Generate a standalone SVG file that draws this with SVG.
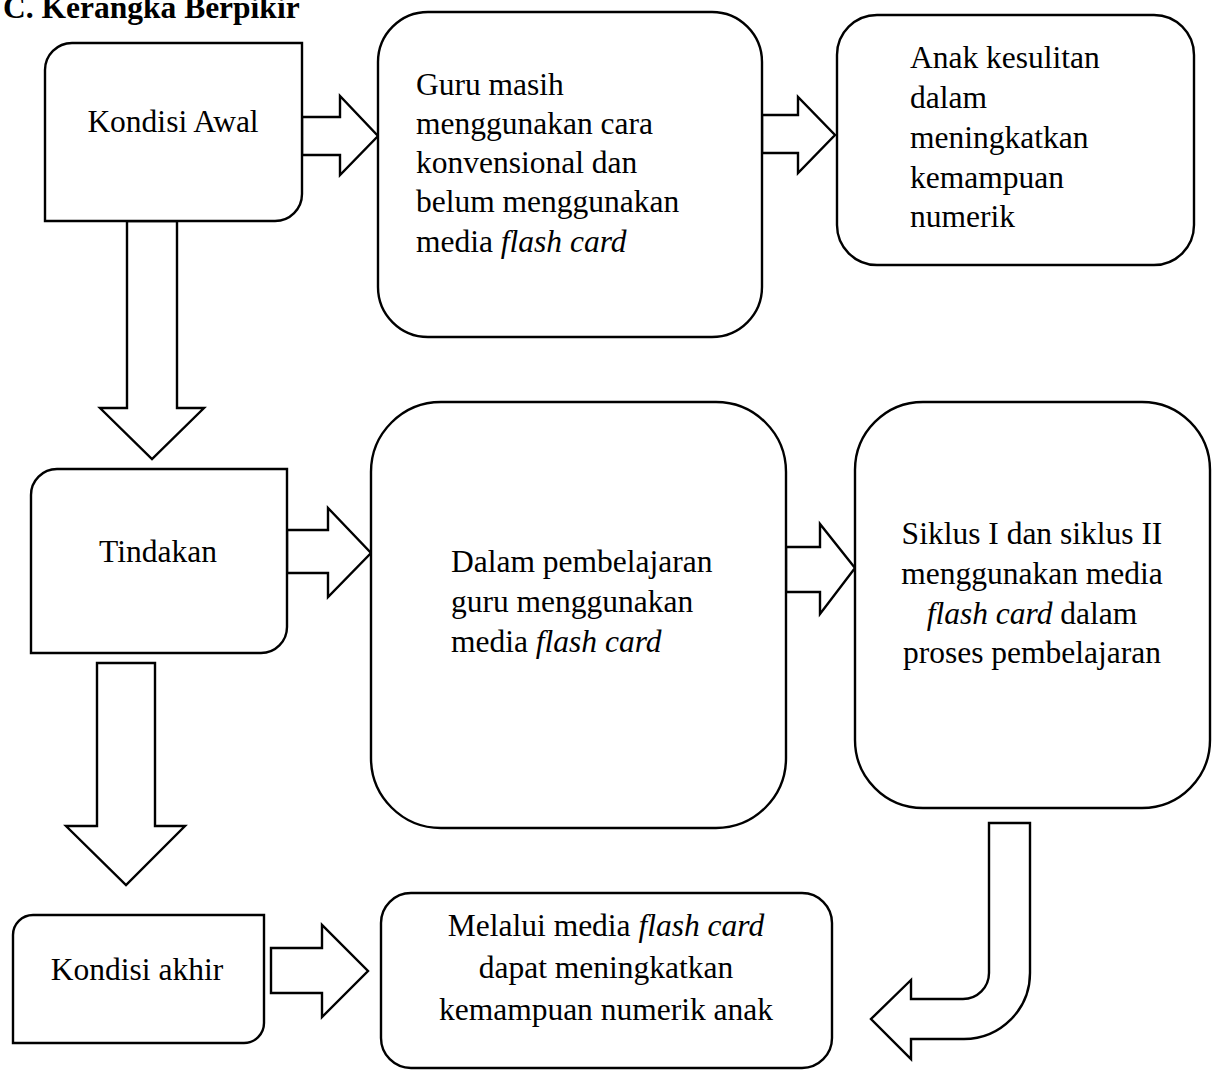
<svg xmlns="http://www.w3.org/2000/svg" width="1217" height="1071" viewBox="0 0 1217 1071">
<style>
.shape{fill:#fff;stroke:#000;stroke-width:2.4;stroke-linejoin:miter}
.t{font-family:"Liberation Serif","Times New Roman",serif;font-size:31.5px;fill:#000}
.c{text-anchor:middle}
.i{font-style:italic}
.title{font-family:"Liberation Serif","Times New Roman",serif;font-size:31.5px;font-weight:bold;fill:#000}
</style>
<rect width="1217" height="1071" fill="#fff"/>
<text class="title" x="3" y="18">C. Kerangka Berpikir</text>

<g id="connectors">
<polygon class="shape" points="302,117 340,117 340,96 378,136 340,175 340,155 302,155"/>
<polygon class="shape" points="762,115 798,115 798,97 835,135 798,173 798,153 762,153"/>
<polygon class="shape" points="127,221 177,221 177,408 204,408 152,459 100,408 127,408"/>
<polygon class="shape" points="287,530 328,530 328,508 371,553 328,597 328,573 287,573"/>
<polygon class="shape" points="786,547 820,547 820,524 855,568 820,614 820,592 786,592"/>
<polygon class="shape" points="97,663 155,663 155,826 185,826 126,885 66,826 97,826"/>
<polygon class="shape" points="271,948 322,948 322,925 368,971 322,1017 322,993 271,993"/>
<path class="shape" d="M989,823 L1030,823 L1030,973 A66,66 0 0 1 964,1039 L911,1039 L911,1059 L871,1019 L911,980 L911,999 L963,999 A26,26 0 0 0 989,973 Z"/>
</g>

<g id="kondisi-awal">
<path class="shape" d="M45,221 L45,70 A27,27 0 0 1 72,43 L302,43 L302,194 A27,27 0 0 1 275,221 Z"/>
<text class="t c" x="173" y="132">Kondisi Awal</text>
</g>

<g id="guru">
<rect class="shape" x="378" y="12" width="384" height="325" rx="50"/>
<text class="t" x="416" y="95">Guru masih</text>
<text class="t" x="416" y="134">menggunakan cara</text>
<text class="t" x="416" y="173">konvensional dan</text>
<text class="t" x="416" y="212">belum menggunakan</text>
<text class="t" x="416" y="252">media <tspan class="i">flash card</tspan></text>
</g>

<g id="anak">
<rect class="shape" x="837" y="15" width="357" height="250" rx="40"/>
<text class="t" x="910" y="68">Anak kesulitan</text>
<text class="t" x="910" y="108">dalam</text>
<text class="t" x="910" y="148">meningkatkan</text>
<text class="t" x="910" y="188">kemampuan</text>
<text class="t" x="910" y="227">numerik</text>
</g>

<g id="tindakan">
<path class="shape" d="M31,653 L31,495 A26,26 0 0 1 57,469 L287,469 L287,627 A26,26 0 0 1 261,653 Z"/>
<text class="t c" x="158" y="562">Tindakan</text>
</g>

<g id="dalam">
<rect class="shape" x="371" y="402" width="415" height="426" rx="70"/>
<text class="t" x="451" y="572">Dalam pembelajaran</text>
<text class="t" x="451" y="612">guru menggunakan</text>
<text class="t" x="451" y="652">media <tspan class="i">flash card</tspan></text>
</g>

<g id="siklus">
<rect class="shape" x="855" y="402" width="355" height="406" rx="68"/>
<text class="t c" x="1032" y="544">Siklus I dan siklus II</text>
<text class="t c" x="1032" y="584">menggunakan media</text>
<text class="t c" x="1032" y="624"><tspan class="i">flash card</tspan> dalam</text>
<text class="t c" x="1032" y="663">proses pembelajaran</text>
</g>

<g id="kondisi-akhir">
<path class="shape" d="M13,1043 L13,935 A20,20 0 0 1 33,915 L264,915 L264,1023 A20,20 0 0 1 244,1043 Z"/>
<text class="t c" x="137" y="980">Kondisi akhir</text>
</g>

<g id="final">
<rect class="shape" x="381" y="893" width="451" height="175" rx="30"/>
<text class="t c" x="606" y="936">Melalui media <tspan class="i">flash card</tspan></text>
<text class="t c" x="606" y="978">dapat meningkatkan</text>
<text class="t c" x="606" y="1020">kemampuan numerik anak</text>
</g>
</svg>
